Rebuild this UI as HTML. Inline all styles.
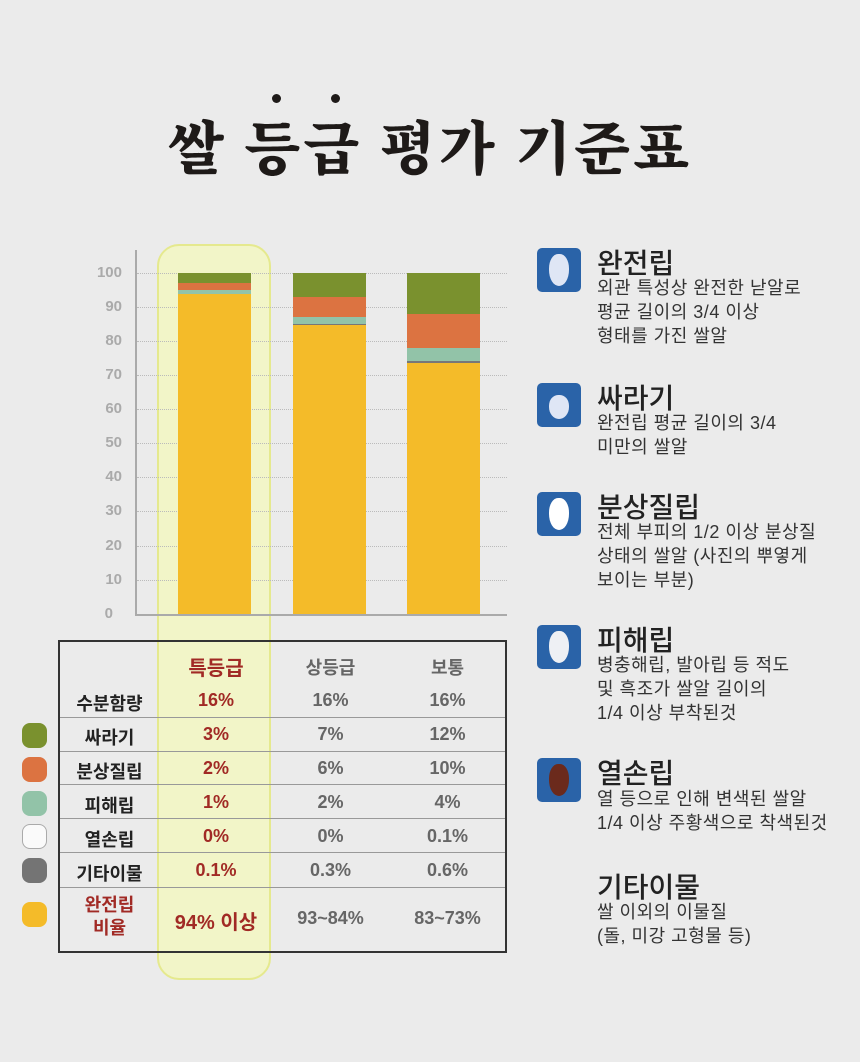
<!DOCTYPE html>
<html><head><meta charset="utf-8"><style>
body{margin:0;width:860px;height:1062px;background:#ebebeb;position:relative;overflow:hidden;font-family:"Liberation Sans","Noto Sans CJK KR",sans-serif;}
.a{position:absolute}
.title{left:0;width:860px;top:102px;text-align:center;font-family:"Noto Serif CJK SC","Noto Sans CJK KR",serif;font-size:58px;font-weight:900;color:#1e1a18;letter-spacing:3px}
.dot{width:9px;height:9px;border-radius:50%;background:#1e1a18}
.yl{left:80px;width:42px;text-align:right;font-size:15px;color:#aaa;font-weight:bold}
.grid{left:137px;width:370px;border-top:1px dotted #bbb;height:0}
.tbl{left:58px;top:640px;width:449px;height:313px;border:2px solid #333;box-sizing:border-box}
.row{position:absolute;left:0;width:100%;border-top:1px solid #999}
.c{position:absolute;text-align:center;font-size:18px;font-weight:bold;color:#666}
.lab{color:#222}
.red{color:#a12a25}
.sw{left:22px;width:25px;height:25px;border-radius:8px}
.ic{left:537px;width:44px;height:44px;border-radius:5px;background:#2a63a8}
.grain{position:absolute;left:12px;top:6px;width:20px;height:32px;border-radius:45% 45% 50% 50%;background:#dfe6f5}
.rt{left:597px;font-size:28px;color:#222;font-weight:500}
.rd{left:597px;font-size:18px;color:#333;line-height:24px;letter-spacing:0.5px}
</style></head><body>
<div class="a title">쌀 등급 평가 기준표</div>
<div class="a dot" style="left:272px;top:94px"></div>
<div class="a dot" style="left:331px;top:94px"></div>

<div class="a" style="left:157px;top:244px;width:114px;height:736px;background:#f2f5c8;border:2px solid #e5e98e;border-radius:22px;box-sizing:border-box"></div>

<div class="a yl" style="top:264px">100</div><div class="a grid" style="top:273px"></div>
<div class="a yl" style="top:298px">90</div><div class="a grid" style="top:307px"></div>
<div class="a yl" style="top:332px">80</div><div class="a grid" style="top:341px"></div>
<div class="a yl" style="top:366px">70</div><div class="a grid" style="top:375px"></div>
<div class="a yl" style="top:400px">60</div><div class="a grid" style="top:409px"></div>
<div class="a yl" style="top:434px">50</div><div class="a grid" style="top:443px"></div>
<div class="a yl" style="top:468px">40</div><div class="a grid" style="top:477px"></div>
<div class="a yl" style="top:502px">30</div><div class="a grid" style="top:511px"></div>
<div class="a yl" style="top:537px">20</div><div class="a grid" style="top:546px"></div>
<div class="a yl" style="top:571px">10</div><div class="a grid" style="top:580px"></div>
<div class="a yl" style="top:605px;width:33px">0</div>

<div class="a" style="left:178px;top:273px;width:73px;height:10px;background:#7a912e"></div>
<div class="a" style="left:178px;top:283px;width:73px;height:7px;background:#dc7341"></div>
<div class="a" style="left:178px;top:290px;width:73px;height:4px;background:#92c3a8"></div>
<div class="a" style="left:178px;top:294px;width:73px;height:320px;background:#f4bb29"></div>

<div class="a" style="left:293px;top:273px;width:73px;height:24px;background:#7a912e"></div>
<div class="a" style="left:293px;top:297px;width:73px;height:20px;background:#dc7341"></div>
<div class="a" style="left:293px;top:317px;width:73px;height:7px;background:#92c3a8"></div>
<div class="a" style="left:293px;top:324px;width:73px;height:1px;background:#777"></div>
<div class="a" style="left:293px;top:325px;width:73px;height:289px;background:#f4bb29"></div>

<div class="a" style="left:407px;top:273px;width:73px;height:41px;background:#7a912e"></div>
<div class="a" style="left:407px;top:314px;width:73px;height:34px;background:#dc7341"></div>
<div class="a" style="left:407px;top:348px;width:73px;height:13px;background:#92c3a8"></div>
<div class="a" style="left:407px;top:361px;width:73px;height:2px;background:#777"></div>
<div class="a" style="left:407px;top:363px;width:73px;height:251px;background:#f4bb29"></div>

<div class="a" style="left:135px;top:250px;width:2px;height:366px;background:#aaa"></div>
<div class="a" style="left:135px;top:614px;width:372px;height:2px;background:#aaa"></div>

<div class="a tbl">
 <div class="row" style="top:75px"></div><div class="row" style="top:109px"></div><div class="row" style="top:142px"></div><div class="row" style="top:176px"></div><div class="row" style="top:210px"></div><div class="row" style="top:245px"></div>
 <div class="c red" style="left:99px;width:114px;top:10px;font-size:20px">특등급</div>
 <div class="c" style="left:213px;width:115px;top:12px">상등급</div>
 <div class="c" style="left:328px;width:119px;top:12px">보통</div>
 <div class="c lab" style="left:0;width:99px;top:48px">수분함량</div>
 <div class="c red" style="left:99px;width:114px;top:48px">16%</div><div class="c" style="left:213px;width:115px;top:48px">16%</div><div class="c" style="left:328px;width:119px;top:48px">16%</div>
 <div class="c lab" style="left:0;width:99px;top:82px">싸라기</div>
 <div class="c red" style="left:99px;width:114px;top:82px">3%</div><div class="c" style="left:213px;width:115px;top:82px">7%</div><div class="c" style="left:328px;width:119px;top:82px">12%</div>
 <div class="c lab" style="left:0;width:99px;top:116px">분상질립</div>
 <div class="c red" style="left:99px;width:114px;top:116px">2%</div><div class="c" style="left:213px;width:115px;top:116px">6%</div><div class="c" style="left:328px;width:119px;top:116px">10%</div>
 <div class="c lab" style="left:0;width:99px;top:150px">피해립</div>
 <div class="c red" style="left:99px;width:114px;top:150px">1%</div><div class="c" style="left:213px;width:115px;top:150px">2%</div><div class="c" style="left:328px;width:119px;top:150px">4%</div>
 <div class="c lab" style="left:0;width:99px;top:184px">열손립</div>
 <div class="c red" style="left:99px;width:114px;top:184px">0%</div><div class="c" style="left:213px;width:115px;top:184px">0%</div><div class="c" style="left:328px;width:119px;top:184px">0.1%</div>
 <div class="c lab" style="left:0;width:99px;top:218px">기타이물</div>
 <div class="c red" style="left:99px;width:114px;top:218px">0.1%</div><div class="c" style="left:213px;width:115px;top:218px">0.3%</div><div class="c" style="left:328px;width:119px;top:218px">0.6%</div>
 <div class="c red" style="left:0;width:99px;top:252px;line-height:23px">완전립<br>비율</div>
 <div class="c red" style="left:99px;width:114px;top:264px;font-size:20px">94% 이상</div><div class="c" style="left:213px;width:115px;top:266px">93~84%</div><div class="c" style="left:328px;width:119px;top:266px">83~73%</div>
</div>

<div class="a sw" style="top:723px;background:#7a912e"></div>
<div class="a sw" style="top:757px;background:#dc7341"></div>
<div class="a sw" style="top:791px;background:#92c3a8"></div>
<div class="a sw" style="top:824px;background:#fafafa;border:1px solid #aaa;box-sizing:border-box"></div>
<div class="a sw" style="top:858px;background:#747474"></div>
<div class="a sw" style="top:902px;background:#f4bb29"></div>

<div class="a ic" style="top:248px"><div class="grain"></div></div>
<div class="a rt" style="top:242px">완전립</div>
<div class="a rd" style="top:276px">외관 특성상 완전한 낟알로<br>평균 길이의 3/4 이상<br>형태를 가진 쌀알</div>

<div class="a ic" style="top:383px"><div class="grain" style="top:12px;height:24px"></div></div>
<div class="a rt" style="top:377px">싸라기</div>
<div class="a rd" style="top:411px">완전립 평균 길이의 3/4<br>미만의 쌀알</div>

<div class="a ic" style="top:492px"><div class="grain" style="background:#fff"></div></div>
<div class="a rt" style="top:486px">분상질립</div>
<div class="a rd" style="top:520px">전체 부피의 1/2 이상 분상질<br>상태의 쌀알 (사진의 뿌옇게<br>보이는 부분)</div>

<div class="a ic" style="top:625px"><div class="grain" style="background:#eef0f4"></div></div>
<div class="a rt" style="top:619px">피해립</div>
<div class="a rd" style="top:653px">병충해립, 발아립 등 적도<br>및 흑조가 쌀알 길이의<br>1/4 이상 부착된것</div>

<div class="a ic" style="top:758px"><div class="grain" style="background:#6b2a1c"></div></div>
<div class="a rt" style="top:752px">열손립</div>
<div class="a rd" style="top:787px">열 등으로 인해 변색된 쌀알<br>1/4 이상 주황색으로 착색된것</div>

<div class="a rt" style="top:866px">기타이물</div>
<div class="a rd" style="top:900px">쌀 이외의 이물질<br>(돌, 미강 고형물 등)</div>
</body></html>
